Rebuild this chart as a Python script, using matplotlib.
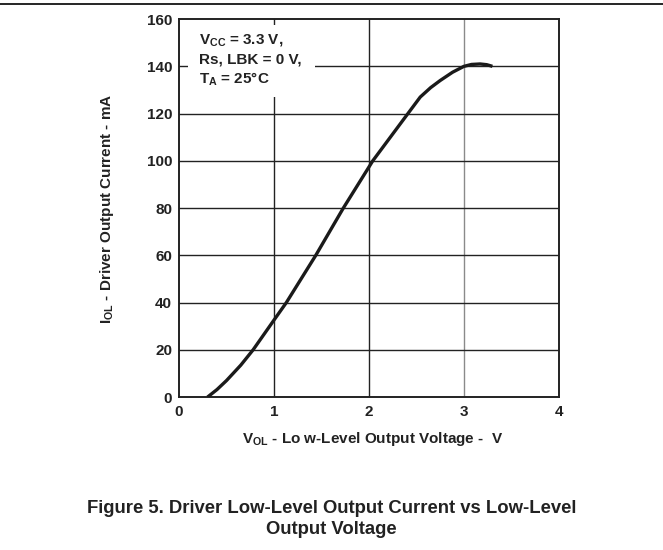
import matplotlib
matplotlib.use('Agg')
import matplotlib.pyplot as plt
from matplotlib.lines import Line2D
from matplotlib.patches import Rectangle

plt.rcParams['font.family'] = ['Liberation Sans', 'DejaVu Sans']
plt.rcParams['font.weight'] = 'bold'
plt.rcParams['mathtext.fontset'] = 'custom'
plt.rcParams['mathtext.rm'] = 'Liberation Sans:bold'
plt.rcParams['mathtext.bf'] = 'Liberation Sans:bold'
plt.rcParams['mathtext.it'] = 'Liberation Sans:bold'

# curve (V, mA)
v_ol = [0.3, 0.4, 0.5, 0.65, 0.78, 1.0, 1.13, 1.44, 1.73, 2.0, 2.04, 2.41, 2.54,
        2.65, 2.75, 2.88, 3.0, 3.08, 3.17, 3.24, 3.3]
i_ol = [0, 3.2, 7, 13.5, 20, 32.6, 40, 60, 80, 97.4, 100, 120, 127,
        131, 134, 137.5, 140, 140.8, 141, 140.7, 140]

x_ticks = [0, 1, 2, 3, 4]
y_ticks = [0, 20, 40, 60, 80, 100, 120, 140, 160]

fs = 11

fig = plt.figure(figsize=(6.63, 5.5), dpi=100)
ax = fig.add_axes([0.270, 0.278, 0.573, 0.6873])

ax.set_xlim(0, 4)
ax.set_ylim(0, 160)
ax.set_xticks(x_ticks)
ax.set_yticks(y_ticks)
ax.tick_params(length=0, labelsize=fs, labelcolor='#222222')
ax.tick_params(axis='x', pad=6)
ax.tick_params(axis='y', pad=5)

# grid
for xv in x_ticks[1:-1]:
    col = '#8a8a8a' if xv == 3 else '#222222'
    ax.axvline(xv, color=col, lw=1.0, zorder=1)
for yv in y_ticks[1:-1]:
    ax.axhline(yv, color='#222222', lw=1.0, zorder=1)

for sp in ax.spines.values():
    sp.set_linewidth(1.4)
    sp.set_color('#222222')

# white box behind the conditions text
ax.add_patch(Rectangle((0.095, 127), 1.335, 30.5, facecolor='white', edgecolor='none', zorder=2))
ax.text(0.21, 149.8, r'V$_{\mathrm{CC}}$ = 3.3 V,', fontsize=fs, fontweight='bold', zorder=3, va='baseline', color='#222222')
ax.text(0.21, 141.4, 'Rs, LBK = 0 V,', fontsize=fs, fontweight='bold', zorder=3, va='baseline', color='#222222')
ax.text(0.21, 132.9, r'T$_{\mathrm{A}}$ = 25$\degree$C', fontsize=fs, fontweight='bold', zorder=3, va='baseline', color='#222222')

ax.plot(v_ol, i_ol, color='#1a1a1a', lw=2.4, zorder=4, solid_capstyle='butt', solid_joinstyle='round')

ax.set_xlabel(r'V$_{\mathrm{OL}}$ - Lo w-Level Output Voltage -  V', fontsize=fs, fontweight='bold', color='#222222')
ax.xaxis.set_label_coords(0.51, -0.087)
ax.set_ylabel(r'I$_{\mathrm{OL}}$ - Driver Output Current - mA', fontsize=fs, fontweight='bold', color='#222222')
ax.yaxis.set_label_coords(-0.165, 0.499)

# top rule
fig.add_artist(Line2D([0, 1], [0.992, 0.992], transform=fig.transFigure, color='black', lw=1.2))

fig.text(0.5, 0.057, 'Figure 5. Driver Low-Level Output Current vs Low-Level\nOutput Voltage',
         ha='center', va='center', fontsize=13.3, fontweight='bold', linespacing=1.3, color='#222222')

fig.savefig('out.png', dpi=100)
